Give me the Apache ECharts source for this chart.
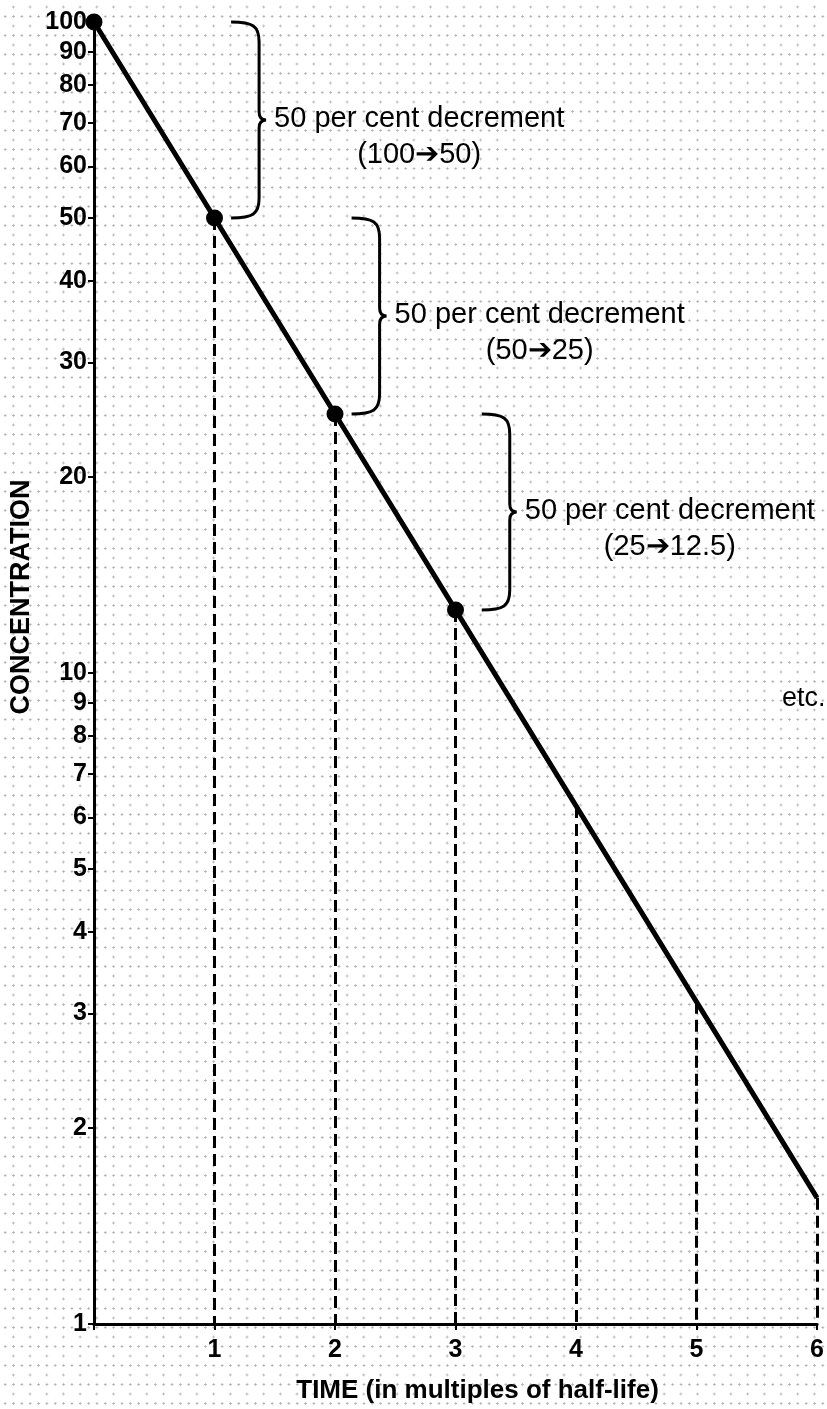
<!DOCTYPE html>
<html>
<head>
<meta charset="utf-8">
<script src="https://cdn.jsdelivr.net/npm/echarts@6.0.0/dist/echarts.min.js"></script>
<style>
  html, body { margin: 0; padding: 0; background: #fff; }
  #chart {
    width: 827px;
    height: 1409px;
    background-color: #fff;
    background-image:
      radial-gradient(circle, #b4b4b4 0.9px, rgba(255,255,255,0) 1.4px),
      radial-gradient(circle, #b4b4b4 0.9px, rgba(255,255,255,0) 1.4px);
    background-size: 8.35px 19px, 16.7px 19px;
    background-position: 1px 7px, 5px -2.5px;
  }
</style>
</head>
<body>
<div id="chart"></div>
<script>
// time in half-lives and concentration (halves every step)
var halfLives = [0, 1, 2, 3, 4, 5, 6];
var concentration = [100, 50, 25, 12.5, 6.25, 3.125, 1.5625];
var marked = [true, true, true, true, false, false, false];

var yTickValues = [1, 2, 3, 4, 5, 6, 7, 8, 9, 10, 20, 30, 40, 50, 60, 70, 80, 90, 100];
var xTickLabels = ['', '1', '2', '3', '4', '5', '6'];

// braces: x position, from value, to value, two text lines
var braceX = [1.37, 2.37, 3.45];
var braceFrom = [100, 50, 25];
var braceTo = [50, 25, 12.5];
var braceLine1 = ['50 per cent decrement', '50 per cent decrement', '50 per cent decrement'];
var braceLine2 = ['(100\u279450)', '(50\u279425)', '(25\u279412.5)'];

var FONT = '"Liberation Sans", Arial, Helvetica, sans-serif';

var chart = echarts.init(document.getElementById('chart'), null, { renderer: 'canvas' });

var lineData = halfLives.map(function (t, i) {
  return {
    value: [t, concentration[i]],
    symbol: marked[i] ? 'circle' : 'none',
    symbolSize: 17
  };
});

var dashData = [];
for (var i = 1; i < halfLives.length; i++) {
  dashData.push([{ coord: [halfLives[i], concentration[i]] }, { coord: [halfLives[i], 1] }]);
}

var braceData = braceX.map(function (x, i) {
  return [x, braceFrom[i], braceTo[i]];
});

var option = {
  backgroundColor: 'transparent',
  animation: false,
  grid: { left: 94, right: 9, top: 22, bottom: 82 },
  xAxis: {
    type: 'value',
    min: 0,
    max: 6,
    interval: 1,
    name: 'TIME (in multiples of half-life)',
    nameLocation: 'middle',
    nameGap: 54,
    nameTextStyle: {
      fontFamily: FONT, fontSize: 26, fontWeight: 'bold', color: '#000',
      padding: [0, 0, 0, 44]
    },
    axisLine: { lineStyle: { color: '#000', width: 3 } },
    axisTick: { show: true, length: 6, lineStyle: { color: '#000', width: 2 } },
    axisLabel: {
      margin: 14,
      fontFamily: FONT, fontSize: 25, fontWeight: 'bold', color: '#000',
      formatter: function (v) { return xTickLabels[v]; }
    },
    splitLine: { show: false }
  },
  yAxis: {
    type: 'log',
    logBase: 10,
    min: 1,
    max: 100,
    axisLine: { show: true, lineStyle: { color: '#000', width: 3 } },
    axisTick: {
      show: true, length: 6, customValues: yTickValues,
      lineStyle: { color: '#000', width: 2 }
    },
    axisLabel: {
      margin: 7,
      customValues: yTickValues,
      fontFamily: FONT, fontSize: 25, fontWeight: 'bold', color: '#000'
    },
    minorTick: { show: false },
    splitLine: { show: false }
  },
  graphic: [
    {
      type: 'text',
      x: 22, y: 597,
      rotation: Math.PI / 2,
      style: {
        text: 'CONCENTRATION',
        font: 'bold 27px ' + FONT,
        fill: '#000',
        align: 'center',
        verticalAlign: 'middle'
      }
    },
    {
      type: 'text',
      left: 782, top: 685,
      style: {
        text: 'etc.',
        font: '27px ' + FONT,
        fill: '#000'
      }
    }
  ],
  series: [
    {
      type: 'line',
      data: lineData,
      lineStyle: { color: '#000', width: 5 },
      itemStyle: { color: '#000' },
      z: 3,
      markLine: {
        silent: true,
        symbol: 'none',
        label: { show: false },
        lineStyle: { color: '#000', width: 3, type: [12, 6] },
        data: dashData
      }
    },
    {
      type: 'custom',
      clip: false,
      data: braceData,
      renderItem: function (params, api) {
        var idx = params.dataIndex;
        var p1 = api.coord([api.value(0), api.value(1)]);
        var p2 = api.coord([api.value(0), api.value(2)]);
        var X = p1[0], T = p1[1], B = p2[1], M = (T + B) / 2;
        var w = 28, r = 20;
        var d = 'M ' + (X - w) + ' ' + T +
          ' C ' + (X - 6) + ' ' + T + ' ' + X + ' ' + (T + 4) + ' ' + X + ' ' + (T + r) +
          ' L ' + X + ' ' + (M - 8) +
          ' Q ' + X + ' ' + M + ' ' + (X + 7) + ' ' + M +
          ' Q ' + X + ' ' + M + ' ' + X + ' ' + (M + 8) +
          ' L ' + X + ' ' + (B - r) +
          ' C ' + X + ' ' + (B - 4) + ' ' + (X - 6) + ' ' + B + ' ' + (X - w) + ' ' + B;
        return {
          type: 'group',
          children: [
            {
              type: 'path',
              shape: { pathData: d },
              style: { stroke: '#000', fill: null, lineWidth: 3 }
            },
            {
              type: 'text',
              x: X + 15,
              y: M - 19,
              style: {
                text: '{a|' + braceLine1[idx] + '}\n{b|' + braceLine2[idx] + '}',
                verticalAlign: 'top',
                align: 'left',
                rich: {
                  a: { fontFamily: FONT, fontSize: 29, color: '#000', lineHeight: 36 },
                  b: { fontFamily: FONT, fontSize: 29, color: '#000', lineHeight: 36, align: 'center' }
                }
              }
            }
          ]
        };
      }
    }
  ]
};

chart.setOption(option);
</script>
</body>
</html>
